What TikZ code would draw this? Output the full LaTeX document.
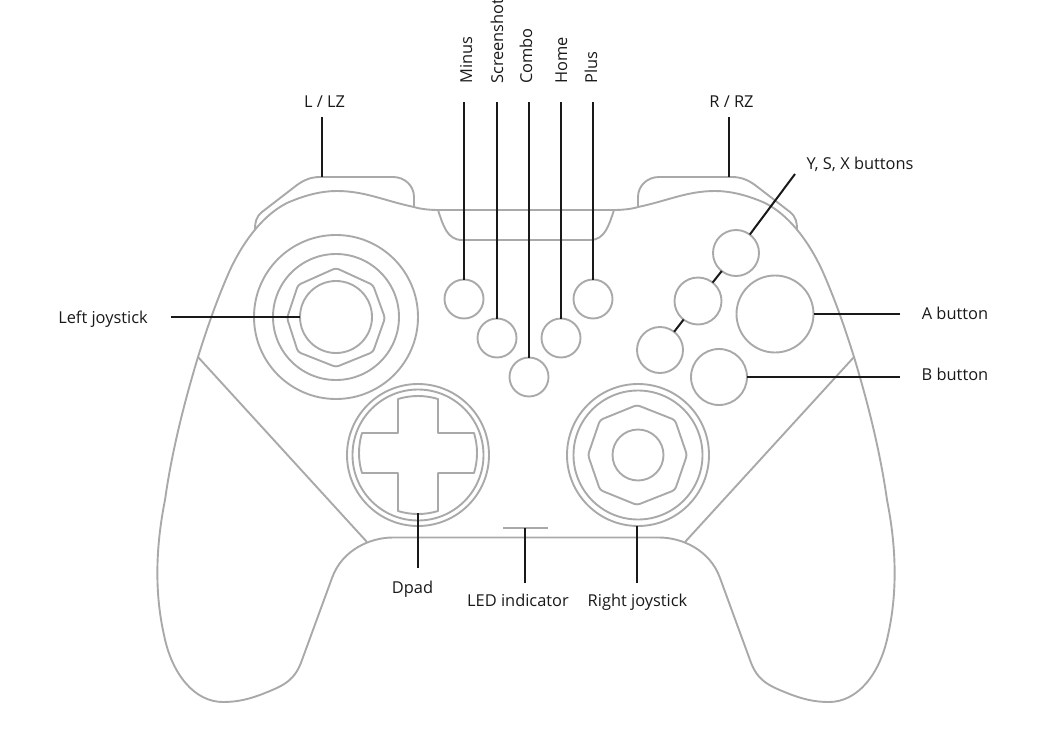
\documentclass[tikz,border=0pt]{standalone}
\usepackage{fontspec}
\setmainfont{Open Sans}
\newcommand{\halfbody}{
    % shell, left half
    \draw[body] (526,537.5) -- (393,537.5) .. controls (370,537.5) and (342,550) .. (332,578)
      -- (302,660) .. controls (295,680) and (285,685) .. (265,693)
      .. controls (250,699) and (238,702) .. (223,702)
      .. controls (195,702) and (172,675) .. (164,635)
      .. controls (155,595) and (155,550) .. (165,500)
      .. controls (172,450) and (185,400) .. (198,357)
      .. controls (208,325) and (218,297) .. (230,270)
      .. controls (245,238) and (265,214) .. (287,203)
      .. controls (305,195) and (322,191) .. (337,191)
      .. controls (365,191) and (385,201) .. (414,207)
      .. controls (420,209) and (430,210) .. (438,210) -- (526,210);
    % shoulder
    \draw[body] (255,230) .. controls (255,222) and (256,217) .. (262,212)
      -- (297,185) .. controls (304,180) and (311,177) .. (320,177)
      -- (393,177) .. controls (405,177) and (414,186) .. (414,197) -- (414,207);
    % grip seam
    \draw[body] (198,357) -- (367,542);
    % panel under the top edge
    \draw[body] (438,210) .. controls (443,225) and (447,240) .. (462,240) -- (526,240);
}
\begin{document}
\begin{tikzpicture}[x=1pt,y=-1pt,
    body/.style={draw=bodygrey, line width=1.9pt, line join=round},
    btn/.style={circle, draw=bodygrey, line width=1.9pt, inner sep=0pt, outer sep=0pt, minimum size=#1},
    leader/.style={draw=black!90, line width=2pt},
    lbl/.style={font=\fontsize{16.4}{18}\selectfont, text=black!90, inner sep=0pt, text height=11pt, text depth=3pt}]
  \definecolor{bodygrey}{HTML}{A9A9A9}
  \useasboundingbox (0,0) rectangle (1041,736);

  \halfbody
  \begin{scope}[cm={-1,0,0,1,(1052pt,0pt)}]
    \halfbody
  \end{scope}

  % left joystick
  \node[btn=164pt] (ljoyouter) at (336,317) {};
  \node[btn=126pt] (ljoyring)  at (336,317) {};
  \node[btn=72pt]  (ljoy)      at (336,317) {};
  \draw[body, rounded corners=3pt] (336,268) -- (373,285) -- (385,318) -- (373,352) -- (336,367)
    -- (298,352) -- (287,318) -- (298,285) -- cycle;

  % dpad
  \node[btn=142pt] (dpadouter) at (418,455) {};
  \node[btn=131pt] (dpadring)  at (418,455) {};
  \draw[body] (398,399) .. controls (411,395) and (425,395) .. (438,399) -- (438,433)
    -- (474,433) .. controls (478,446) and (478,460) .. (474,473) -- (438,473)
    -- (438,511) .. controls (425,515) and (411,515) .. (398,511) -- (398,473)
    -- (362,473) .. controls (358,460) and (358,446) .. (362,433) -- (398,433) -- cycle;

  % right joystick
  \node[btn=142pt] (rjoyouter) at (638,455) {};
  \node[btn=129pt] (rjoyring)  at (638,455) {};
  \node[btn=51pt]  (rjoy)      at (638,455) {};
  \draw[body, rounded corners=3pt] (637,405) -- (675,420) -- (687,455) -- (675,490) -- (637,505)
    -- (600,490) -- (588,455) -- (600,420) -- cycle;

  % middle buttons
  \node[btn=39pt] (minus)      at (464,299) {};
  \node[btn=39pt] (screenshot) at (497,338) {};
  \node[btn=39pt] (combo)      at (529,377) {};
  \node[btn=39pt] (home)       at (561,338) {};
  \node[btn=39pt] (plus)       at (593,299) {};

  % face buttons
  \node[btn=46pt] (ybtn) at (736,253) {};
  \node[btn=47pt] (sbtn) at (698,301) {};
  \node[btn=46pt] (xbtn) at (660,350) {};
  \node[btn=77pt] (abtn) at (775,314) {};
  \node[btn=56pt] (bbtn) at (719,377) {};

  % led
  \coordinate (ledleft)  at (503,528);
  \coordinate (ledright) at (548,528);
  \coordinate (ledtop)   at (525,528);
  \draw[body] (ledleft) -- (ledright);

  % free ends of the leaders
  \coordinate (minusend)  at (464,102);
  \coordinate (shotend)   at (497,102);
  \coordinate (comboend)  at (529,102);
  \coordinate (homeend)   at (561,102);
  \coordinate (plusend)   at (593,102);
  \coordinate (lzend)     at (322,117);
  \coordinate (lztop)     at (322,177);
  \coordinate (rzend)     at (729,117);
  \coordinate (rztop)     at (729,177);
  \coordinate (ysxend)    at (795,174);
  \coordinate (aend)      at (900,314);
  \coordinate (bend)      at (900,377);
  \coordinate (ljoyend)   at (171,317);
  \coordinate (dpadend)   at (418,568);
  \coordinate (dpadtip)   at (418,513);
  \coordinate (ledend)    at (525,583);
  \coordinate (rjoyend)   at (637,583);
  \coordinate (rjoytip)   at (637,526);

  \foreach \from/\to in
    {minusend/minus, shotend/screenshot, comboend/combo, homeend/home, plusend/plus,
     lzend/lztop, rzend/rztop, ysxend/ybtn, ybtn/sbtn, sbtn/xbtn,
     aend/abtn, bend/bbtn, ljoyend/ljoy, dpadend/dpadtip, ledend/ledtop, rjoyend/rjoytip}
    \draw[leader] (\from) -- (\to);

  % labels
  \node[lbl, rotate=90, anchor=west] (lblminus) at (468,84) {Minus};
  \node[lbl, rotate=90, anchor=west] (lblshot)  at (499,84) {Screenshot};
  \node[lbl, rotate=90, anchor=west] (lblcombo) at (528,84) {Combo};
  \node[lbl, rotate=90, anchor=west] (lblhome)  at (563,84) {Home};
  \node[lbl, rotate=90, anchor=west] (lblplus)  at (593,84) {Plus};

  \node[lbl] (lbllz)   at (324.5,103) {L / LZ};
  \node[lbl] (lblrz)   at (731.5,103) {R / RZ};
  \node[lbl] (lblysx)  at (860,165) {Y, S, X buttons};
  \node[lbl] (lblleft) at (103,319) {Left joystick};
  \node[lbl] (lbla)    at (955,315) {A button};
  \node[lbl] (lblb)    at (955,376) {B button};
  \node[lbl] (lbldpad) at (412.5,589) {Dpad};
  \node[lbl] (lblled)  at (518,602) {LED indicator};
  \node[lbl] (lblright) at (637.5,602) {Right joystick};
\end{tikzpicture}
\end{document}
